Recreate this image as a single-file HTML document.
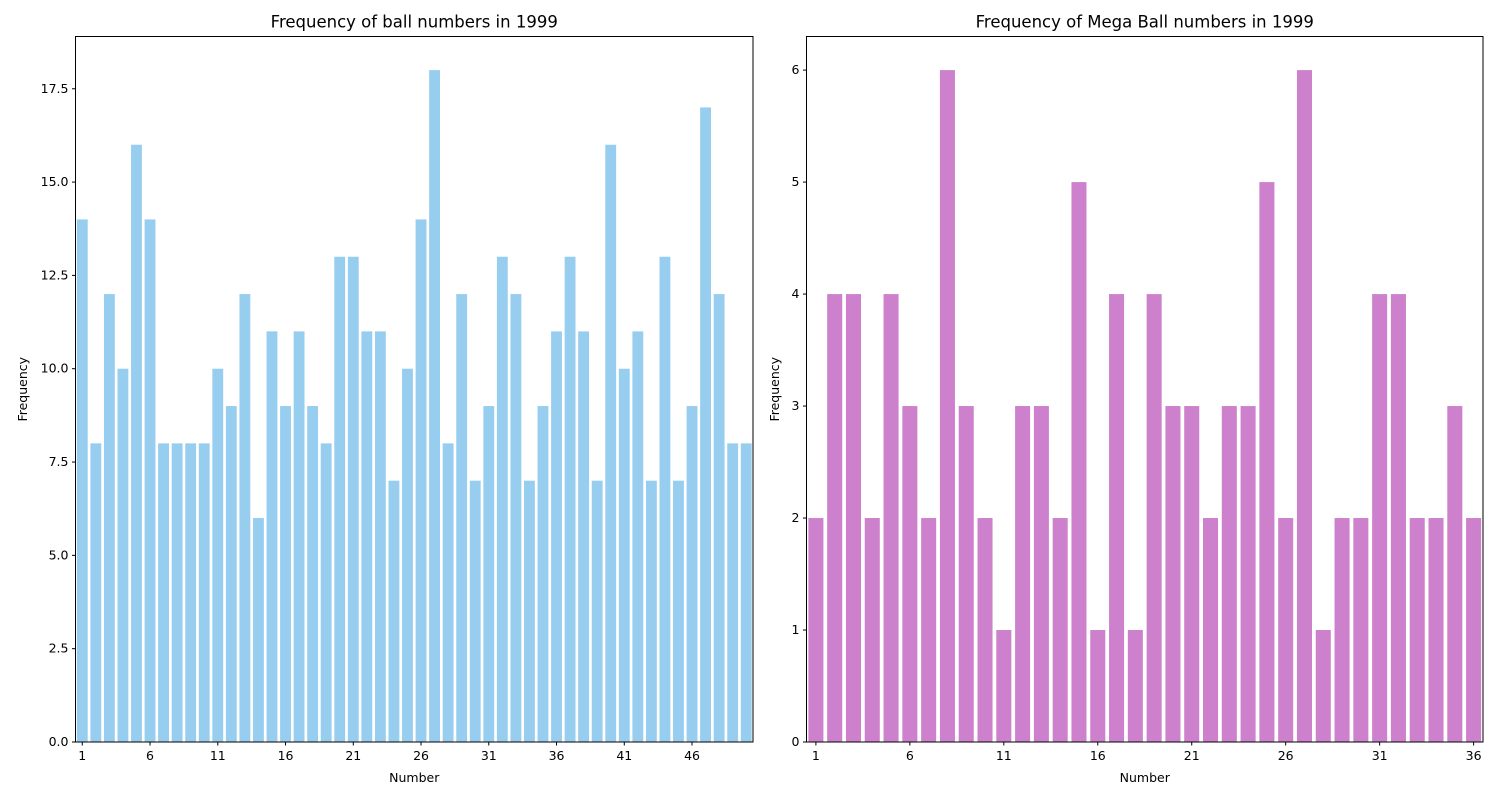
<!DOCTYPE html>
<html><head><meta charset="utf-8"><style>
body{margin:0;background:#fff;font-family:"Liberation Sans","DejaVu Sans",sans-serif}
svg text{font-family:"DejaVu Sans","Liberation Sans",sans-serif;fill:#000}
</style></head><body>
<svg id="chart" width="1500" height="800" xmlns="http://www.w3.org/2000/svg"></svg>
<script>
const ballValues=[14,8,12,10,16,14,8,8,8,8,10,9,12,6,11,9,11,9,8,13,13,11,11,7,10,14,18,8,12,7,9,13,12,7,9,11,13,11,7,16,10,11,7,13,7,9,17,12,8,8];
const megaValues=[2,4,4,2,4,3,2,6,3,2,1,3,3,2,5,1,4,1,4,3,3,2,3,3,5,2,6,1,2,2,4,4,2,2,3,2];
const ballYTicks=[0,2.5,5,7.5,10,12.5,15,17.5];
const ballYTickLabels=["0.0","2.5","5.0","7.5","10.0","12.5","15.0","17.5"];
const megaYTicks=[0,1,2,3,4,5,6];
const ballXTicks=[1,6,11,16,21,26,31,36,41,46];
const megaXTicks=[1,6,11,16,21,26,31,36];
const NS="http://www.w3.org/2000/svg";
const svg=document.getElementById('chart');
function mk(tag,attrs,parent){const e=document.createElementNS(NS,tag);for(const k in attrs)e.setAttribute(k,attrs[k]);(parent||svg).appendChild(e);return e;}
function panel(opt){
  const g=mk('g',{});
  
  
  const {x0,x1,y0,y1,vals,ymax}=opt;
  const n=vals.length;
  const xs=c=>x0+(c+0.5)*(x1-x0)/n;
  const ys=v=>y1-v*(y1-y0)/ymax;
  const bw=0.8*(x1-x0)/n;
  vals.forEach((v,i)=>{
    const r=mk('rect',{x:xs(i)-bw/2,y:ys(v),width:bw,height:ys(0)-ys(v),fill:opt.color},g);
    
    
  });
  mk('rect',{x:x0,y:y0,width:x1-x0,height:y1-y0,fill:'none',stroke:'#000','stroke-width':1},g);
  opt.yticks.forEach((t,i)=>{
    const y=ys(t);
    mk('line',{x1:x0-3.5,x2:x0,y1:y,y2:y,stroke:'#000'},g);
    const tx=mk('text',{x:x0-7,y:y+4,'text-anchor':'end','font-size':'12.5'},g);
    tx.textContent=opt.ylabels?opt.ylabels[i]:String(t);
    
    
  });
  opt.xticks.forEach(t=>{
    const x=xs(t-1);
    mk('line',{x1:x,x2:x,y1:y1,y2:y1+3.5,stroke:'#000'},g);
    const tx=mk('text',{x:x,y:y1+18,'text-anchor':'middle','font-size':'12.5'},g);
    tx.textContent=String(t);
    
    
  });
  const t=mk('text',{x:(x0+x1)/2,y:y0-9,'text-anchor':'middle','font-size':'16.5'},g);
  t.textContent=opt.title;
  
  
  const xl=mk('text',{x:(x0+x1)/2,y:782,'text-anchor':'middle','font-size':'12.5'},g);
  xl.textContent='Number';
  
  
  const yx=opt.ylx;
  const yl=mk('text',{x:yx,y:(y0+y1)/2,'text-anchor':'middle','font-size':'12.5',transform:`rotate(-90 ${yx} ${(y0+y1)/2})`},g);
  yl.textContent='Frequency';
  
  
}
panel({name:'ball-frequency-chart',x0:75.5,x1:753,y0:36.5,y1:742,vals:ballValues,ymax:18.9,color:'#97cdee',yticks:ballYTicks,ylabels:ballYTickLabels,xticks:ballXTicks,title:'Frequency of ball numbers in 1999',ylx:27});
panel({name:'mega-ball-frequency-chart',x0:806.5,x1:1483,y0:36.5,y1:742,vals:megaValues,ymax:6.3,color:'#cd80cc',yticks:megaYTicks,xticks:megaXTicks,title:'Frequency of Mega Ball numbers in 1999',ylx:779});
</script>
</body></html>
